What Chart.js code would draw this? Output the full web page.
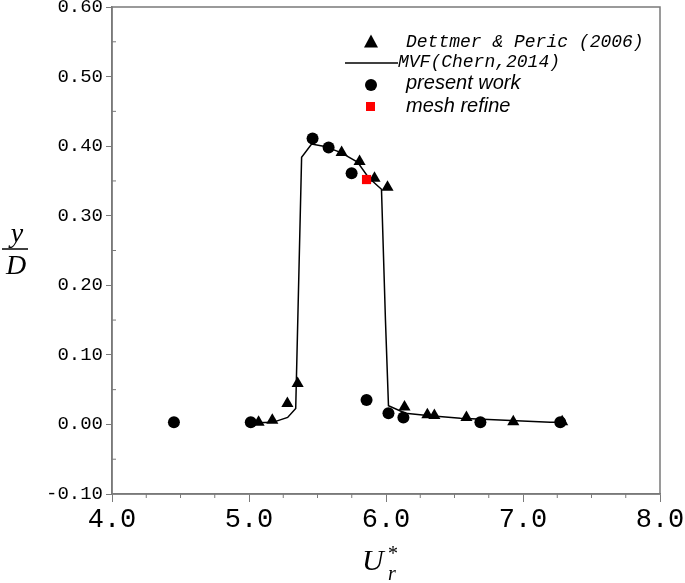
<!DOCTYPE html>
<html>
<head>
<meta charset="utf-8">
<script src="https://cdn.jsdelivr.net/npm/chart.js@4/dist/chart.umd.min.js"></script>
<style>
  html, body { margin: 0; padding: 0; background: #fff; }
  #wrap { width: 685px; height: 583px; position: relative; }
</style>
</head>
<body>
<div id="wrap"><canvas id="c" width="685" height="583"></canvas></div>
<script>
// ---- data ----
const dettmerX = [5.07, 5.17, 5.28, 5.355, 5.676, 5.807, 5.916, 6.011, 6.135, 6.302, 6.353, 6.587, 6.929, 7.286];
const dettmerY = [0.003, 0.006, 0.030, 0.059, 0.391, 0.378, 0.354, 0.341, 0.025, 0.014, 0.013, 0.010, 0.004, 0.004];

const mvfX = [5.00, 5.173, 5.282, 5.341, 5.384, 5.457, 5.544, 5.668, 5.792, 5.872, 5.967, 5.996, 6.018, 6.142, 6.302, 6.543, 7.199, 7.308];
const mvfY = [0.002, 0.003, 0.010, 0.023, 0.384, 0.403, 0.400, 0.391, 0.377, 0.355, 0.338, 0.150, 0.027, 0.016, 0.013, 0.009, 0.003, 0.003];

const presentX = [4.452, 5.013, 5.464, 5.581, 5.749, 5.858, 6.018, 6.127, 6.689, 7.272];
const presentY = [0.003, 0.003, 0.411, 0.398, 0.361, 0.035, 0.016, 0.010, 0.003, 0.003];

const meshX = [5.858];
const meshY = [0.352];

const xTicks = [4.0, 5.0, 6.0, 7.0, 8.0];
const yTicks = [-0.10, 0.00, 0.10, 0.20, 0.30, 0.40, 0.50, 0.60];

const legendLabels = ["Dettmer & Peric (2006)", "MVF(Chern,2014)", "present work", "mesh refine"];

function pts(xs, ys) { return xs.map((x, i) => ({ x: x, y: ys[i] })); }

const AXIS = '#7a7a7a';

const decor = {
  id: 'decor',
  afterDraw(chart) {
    const ctx = chart.ctx;
    const a = chart.chartArea;
    const xs = chart.scales.x, ys = chart.scales.y;
    ctx.save();
    // box
    ctx.strokeStyle = AXIS;
    ctx.lineWidth = 1.5;
    ctx.beginPath();
    ctx.moveTo(a.left, a.bottom); ctx.lineTo(a.left, a.top); ctx.lineTo(a.right, a.top); ctx.lineTo(a.right, a.bottom); ctx.lineTo(a.left, a.bottom);
    ctx.stroke();
    // minor ticks
    ctx.lineWidth = 1;
    ctx.beginPath();
    for (let v = 4.25; v < 8; v += 0.25) {
      if (Math.abs(v - Math.round(v)) < 1e-6) continue;
      const px = xs.getPixelForValue(v);
      ctx.moveTo(px, a.bottom); ctx.lineTo(px, a.bottom + 4);
    }
    for (let v = -0.05; v < 0.6; v += 0.1) {
      const py = ys.getPixelForValue(v);
      ctx.moveTo(a.left, py); ctx.lineTo(a.left + 4, py);
    }
    ctx.stroke();

    // legend
    ctx.fillStyle = '#000';
    ctx.textBaseline = 'middle';
    ctx.textAlign = 'left';
    // triangle
    const tx = 371, ty = 42;
    ctx.beginPath();
    ctx.moveTo(tx, ty - 7.5); ctx.lineTo(tx + 7, ty + 5.5); ctx.lineTo(tx - 7, ty + 5.5); ctx.closePath();
    ctx.fill();
    ctx.font = 'italic 18px "Liberation Mono", "DejaVu Sans Mono", monospace';
    ctx.fillText(legendLabels[0], 406, 42);
    // line
    ctx.strokeStyle = '#000';
    ctx.lineWidth = 1.5;
    ctx.beginPath(); ctx.moveTo(345, 63); ctx.lineTo(398, 63); ctx.stroke();
    ctx.fillText(legendLabels[1], 398, 62);
    // circle
    ctx.beginPath(); ctx.arc(371, 85, 6, 0, Math.PI * 2); ctx.fill();
    ctx.font = 'italic 20px "Liberation Sans", Arial, sans-serif';
    ctx.fillText(legendLabels[2], 406, 83);
    // square
    ctx.fillStyle = '#ff0000';
    ctx.fillRect(366, 102, 9, 9);
    ctx.fillStyle = '#000';
    ctx.fillText(legendLabels[3], 406, 106);

    // y axis title y/D
    ctx.font = 'italic 28px "Liberation Serif", "DejaVu Serif", serif';
    ctx.textAlign = 'center';
    ctx.textBaseline = 'alphabetic';
    ctx.fillText('y', 17, 242);
    ctx.lineWidth = 1.5;
    ctx.beginPath(); ctx.moveTo(2, 249); ctx.lineTo(28, 249); ctx.stroke();
    ctx.fillText('D', 16, 274);

    // x axis title U*_r
    ctx.font = 'italic 30px "Liberation Serif", "DejaVu Serif", serif';
    ctx.textAlign = 'left';
    ctx.fillText('U', 362, 570);
    ctx.font = '20px "Liberation Serif", "DejaVu Serif", serif';
    ctx.fillText('*', 388, 560);
    ctx.font = 'italic 20px "Liberation Serif", "DejaVu Serif", serif';
    ctx.fillText('r', 388, 580);
    ctx.restore();
  }
};

new Chart(document.getElementById('c'), {
  type: 'scatter',
  data: {
    datasets: [
      {
        label: legendLabels[1],
        data: pts(mvfX, mvfY),
        showLine: true,
        borderColor: '#000',
        borderWidth: 1.5,
        pointRadius: 0,
        tension: 0,
        order: 4
      },
      {
        label: legendLabels[0],
        data: pts(dettmerX, dettmerY),
        pointStyle: 'triangle',
        pointRadius: 7,
        backgroundColor: '#000',
        borderColor: '#000',
        borderWidth: 0,
        order: 3
      },
      {
        label: legendLabels[2],
        data: pts(presentX, presentY),
        pointStyle: 'circle',
        pointRadius: 6,
        backgroundColor: '#000',
        borderColor: '#000',
        borderWidth: 0,
        order: 2
      },
      {
        label: legendLabels[3],
        data: pts(meshX, meshY),
        pointStyle: 'rect',
        pointRadius: 6.5,
        backgroundColor: '#ff0000',
        borderColor: '#ff0000',
        borderWidth: 0,
        order: 1
      }
    ]
  },
  options: {
    responsive: false,
    animation: false,
    devicePixelRatio: 1,
    layout: { padding: { left: 0, top: 7, right: 25, bottom: 0 } },
    plugins: { legend: { display: false }, tooltip: { enabled: false }, title: { display: false } },
    scales: {
      x: {
        type: 'linear',
        min: 4, max: 8,
        afterBuildTicks(s) { s.ticks = xTicks.map(v => ({ value: v })); },
        afterFit(s) { s.height = 89; s.paddingLeft = 0; s.paddingRight = 0; },
        border: { display: true, color: AXIS, width: 1.5 },
        grid: { drawOnChartArea: false, drawTicks: true, tickLength: 8, color: AXIS, tickColor: AXIS, tickWidth: 1 },
        ticks: {
          color: '#000',
          padding: 2,
          maxRotation: 0,
          font: { family: '"Liberation Mono", "DejaVu Sans Mono", monospace', size: 27 },
          callback: v => Number(v).toFixed(1)
        }
      },
      y: {
        type: 'linear',
        min: -0.1, max: 0.6,
        afterBuildTicks(s) { s.ticks = yTicks.map(v => ({ value: v })); },
        afterFit(s) { s.width = 112; s.paddingTop = 0; s.paddingBottom = 0; },
        border: { display: true, color: AXIS, width: 1.5 },
        grid: { drawOnChartArea: false, drawTicks: true, tickLength: 6, color: AXIS, tickColor: AXIS, tickWidth: 1 },
        ticks: {
          color: '#000',
          padding: 3,
          font: { family: '"Liberation Mono", "DejaVu Sans Mono", monospace', size: 19 },
          callback: v => Number(v).toFixed(2)
        }
      }
    }
  },
  plugins: [decor]
});
</script>
</body>
</html>
